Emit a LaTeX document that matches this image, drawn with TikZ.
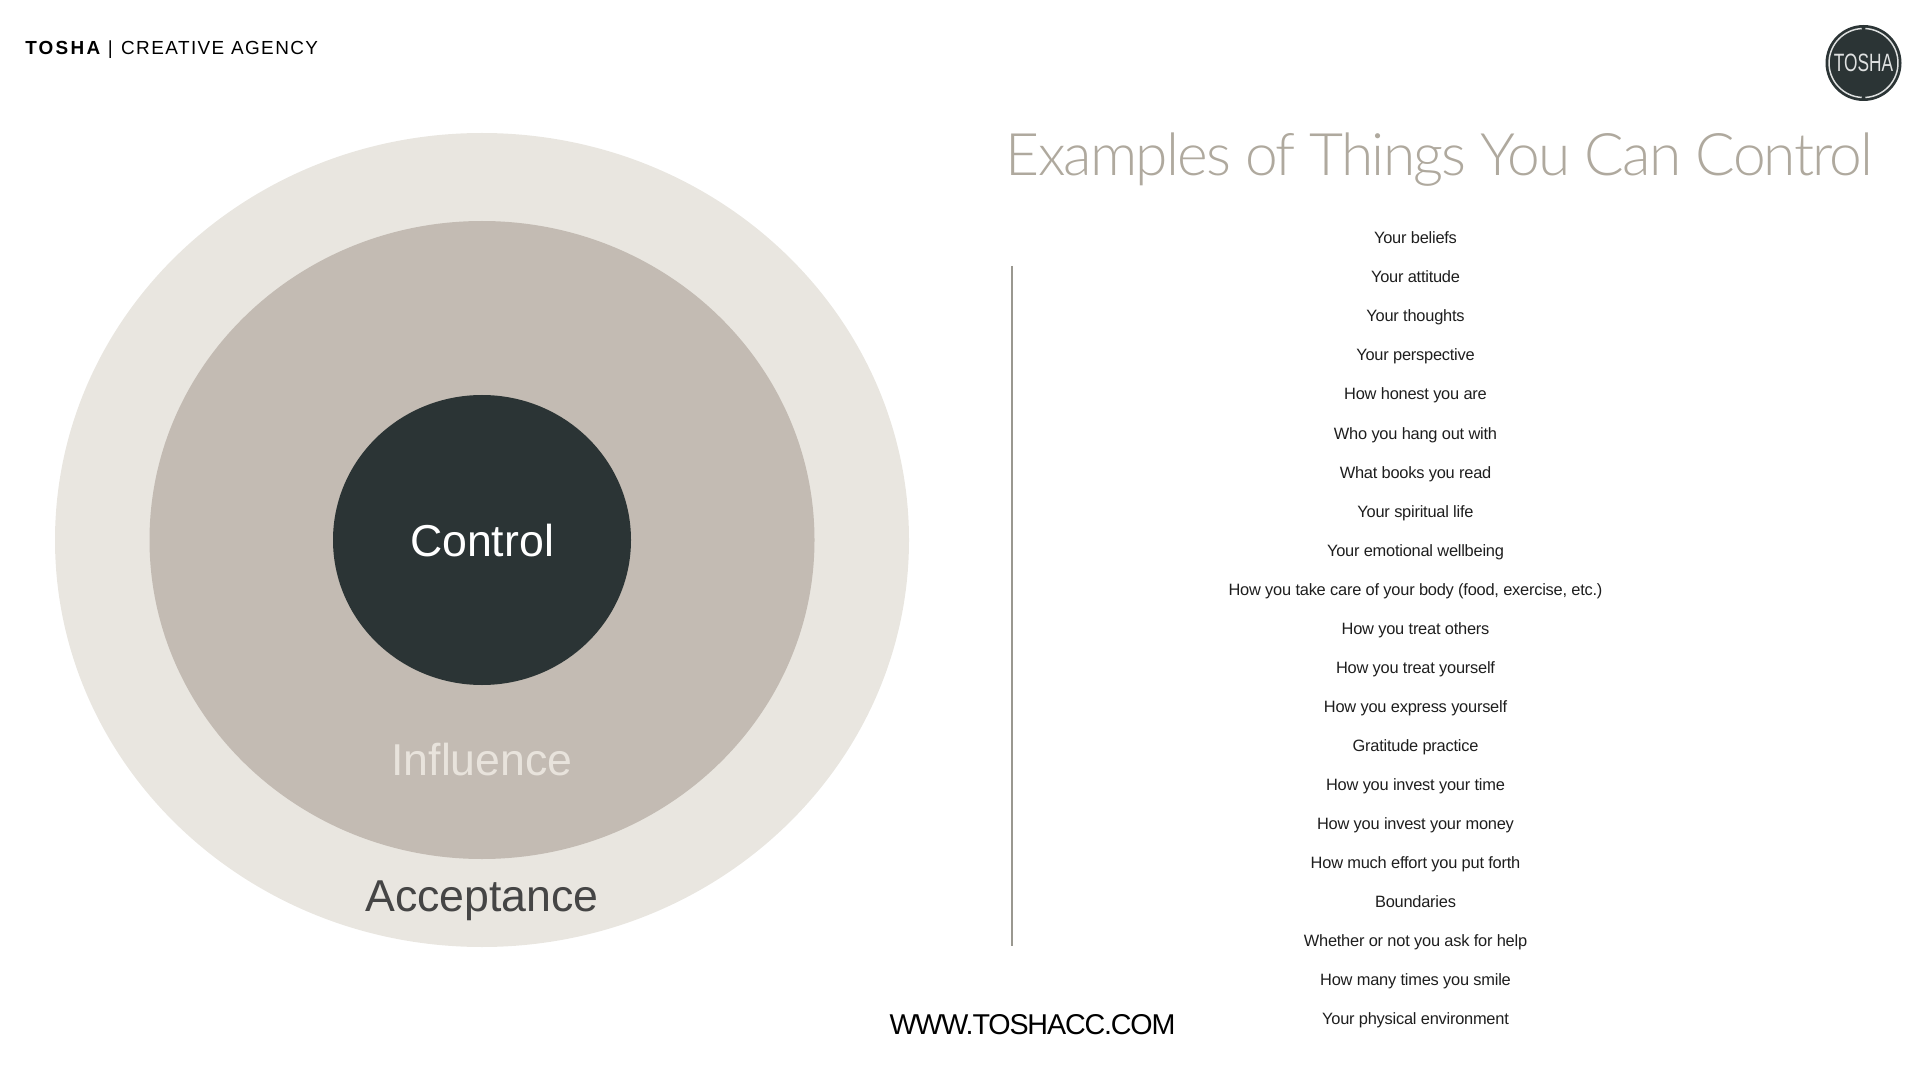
\documentclass[tikz,border=0pt]{standalone}
\usepackage{fontspec}
\setmainfont{Liberation Sans}
\newfontfamily\lightfont[UprightFont=* Light]{Lato}
\usepackage{graphicx}
\definecolor{outerring}{HTML}{E9E6E0}
\definecolor{middlering}{HTML}{C3BBB3}
\definecolor{darkcore}{HTML}{2B3435}
\definecolor{titlegrey}{HTML}{AFA99E}
\definecolor{influencetext}{HTML}{E8E3DC}
\definecolor{acceptancetext}{HTML}{454545}
\definecolor{rulegrey}{HTML}{9A9890}
\definecolor{listtext}{HTML}{1E1E1E}
\newcommand{\pxfont}[1]{\fontsize{#1}{#1}\selectfont}
\tikzset{
  listitem/.style={anchor=base, inner sep=0pt, text=listtext, font=\pxfont{12.3}},
  ringlabel/.style={anchor=center, inner sep=0pt},
}
\begin{document}
\begin{tikzpicture}[x=0.75pt, y=-0.75pt]
    \useasboundingbox (0,0) rectangle (1920,1080);

    % Header
    \node[ringlabel, anchor=west, font=\pxfont{14.2}] (header) at (25,49.5)
        {{\addfontfeature{LetterSpace=12}\textbf{TOSHA}}\ |\ \,{\addfontfeature{LetterSpace=7.5}CREATIVE AGENCY}};

    % Nested rings
    \coordinate (C) at (482,540);
    \fill[outerring] (C) ellipse (427 and 407);
    \fill[middlering] (C) ellipse (332.5 and 319);
    \fill[darkcore] (C) ellipse (149 and 145);

    % Ring labels
    \node[ringlabel, text=white, font=\pxfont{33.5}] (control) at (482,540.5) {Control};
    \node[ringlabel, text=influencetext, font=\pxfont{33.5}] (influence) at (482,760) {Influence};
    \node[ringlabel, text=acceptancetext, font=\pxfont{33.5}] (acceptance) at (482,901) {Acceptance};

    % Logo
    \coordinate (L) at (1863.5,63);
    \fill[darkcore] (L) circle (38);
    \draw[white!85!darkcore, line width=1.1pt] (L) ++(87:34.5) arc (87:-87:34.5);
    \draw[white!85!darkcore, line width=1.1pt] (L) ++(93:34.5) arc (93:267:34.5);
    \node[ringlabel, text=white!85!darkcore] (logotext) at (L)
        {\scalebox{0.69}[1]{\pxfont{18.8}TOSHA}};

    % Title
    \node[ringlabel, text=titlegrey, font=\pxfont{44}] (title) at (1439.5,160)
        {\lightfont\addfontfeature{LetterSpace=-3.1}Examples of Things You Can Control};

    % Divider
    \coordinate (top) at (1012,266);
    \coordinate (bottom) at (1012,946);
    \draw[rulegrey, line width=1.5pt] (top) -- (bottom);

    % List of things
    \foreach \txt [count=\i from 0] in {Your beliefs, Your attitude, Your thoughts,
        Your perspective, How honest you are, Who you hang out with,
        What books you read, Your spiritual life, Your emotional wellbeing,
        {How you take care of your body (food, exercise, etc.)}, How you treat others,
        How you treat yourself, How you express yourself, Gratitude practice,
        How you invest your time, How you invest your money,
        How much effort you put forth, Boundaries, Whether or not you ask for help,
        How many times you smile, Your physical environment}
        \node[listitem] (item\i) at (1415.5,{244+39*\i}) {\addfontfeature{LetterSpace=-1.4}\txt};

    % Website
    \node[ringlabel, text=black, font=\pxfont{21.5}] (website) at (1032.5,1025)
        {\addfontfeature{LetterSpace=-4}WWW.TOSHACC.COM};
\end{tikzpicture}
\end{document}
